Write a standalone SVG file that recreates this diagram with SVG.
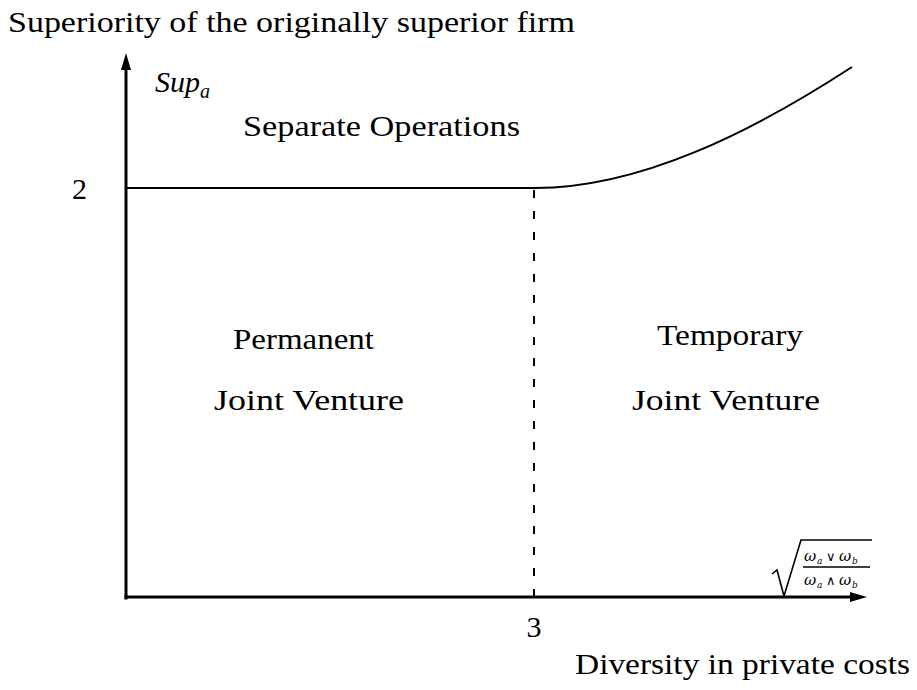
<svg xmlns="http://www.w3.org/2000/svg" width="917" height="690" viewBox="0 0 917 690">
<style>
.t{font-family:"Liberation Serif","Times New Roman",serif;font-size:30px;fill:#000}
.f{font-family:"DejaVu Serif",serif;fill:#000}
.i{font-style:italic}
.ax{stroke:#000;stroke-width:3;fill:none}
.ln{stroke:#000;stroke-width:2;fill:none}
</style>
<defs>
<marker id="arr" viewBox="0 0 17 10" refX="8" refY="5" markerWidth="17" markerHeight="10" markerUnits="userSpaceOnUse" orient="auto">
<path d="M0,0 L17,5 L0,10 z" fill="#000"/>
</marker>
</defs>
<rect width="917" height="690" fill="#fff"/>
<g id="connectors">
<line id="yaxis" class="ax" x1="126" y1="599.5" x2="126" y2="62" marker-end="url(#arr)"/>
<line id="xaxis" class="ax" x1="124.5" y1="597" x2="858" y2="597" marker-end="url(#arr)"/>
<path id="boundary" class="ln" d="M126,188 L535,188 C640,188 752,132 852,67"/>
<line id="divider" class="ln" x1="534" y1="597" x2="534" y2="188" stroke-dasharray="8 13"/>
<path id="radical" d="M772,574 L777,570 L784,596 L801,540 L872,540" stroke="#000" stroke-width="1.6" fill="none"/>
<line id="fracbar" x1="803" y1="567" x2="870" y2="567" stroke="#000" stroke-width="1.6"/>
</g>
<g id="title"><text class="t" x="8" y="32" textLength="567" lengthAdjust="spacingAndGlyphs">Superiority of the originally superior firm</text></g>
<g id="ylabel"><text class="t i" x="155" y="92">Sup<tspan font-size="20" dy="6">a</tspan></text></g>
<g id="separate"><text class="t" x="243" y="136" textLength="277" lengthAdjust="spacingAndGlyphs">Separate Operations</text></g>
<g id="tick2"><text class="t" x="79.5" y="199" text-anchor="middle">2</text></g>
<g id="permanent">
<text class="t" x="233" y="349" textLength="141" lengthAdjust="spacingAndGlyphs">Permanent</text>
<text class="t" x="214" y="410" textLength="190" lengthAdjust="spacingAndGlyphs">Joint Venture</text>
</g>
<g id="temporary">
<text class="t" x="657" y="345" textLength="146" lengthAdjust="spacingAndGlyphs">Temporary</text>
<text class="t" x="632" y="410" textLength="188" lengthAdjust="spacingAndGlyphs">Joint Venture</text>
</g>
<g id="tick3"><text class="t" x="534" y="637" text-anchor="middle">3</text></g>
<g id="xlabel"><text class="t" x="575" y="674" textLength="335" lengthAdjust="spacingAndGlyphs">Diversity in private costs</text></g>
<g id="xsymbol">
<text class="f" font-size="15" y="561"><tspan x="804" class="i">ω</tspan><tspan x="817" y="564" font-size="9" class="i">a</tspan><tspan x="826" y="561" font-size="13">∨</tspan><tspan x="839" class="i">ω</tspan><tspan x="852" y="564" font-size="9" class="i">b</tspan></text>
<text class="f" font-size="15" y="585"><tspan x="804" class="i">ω</tspan><tspan x="817" y="588" font-size="9" class="i">a</tspan><tspan x="826" y="585" font-size="13">∧</tspan><tspan x="839" class="i">ω</tspan><tspan x="852" y="588" font-size="9" class="i">b</tspan></text>
</g>
</svg>
